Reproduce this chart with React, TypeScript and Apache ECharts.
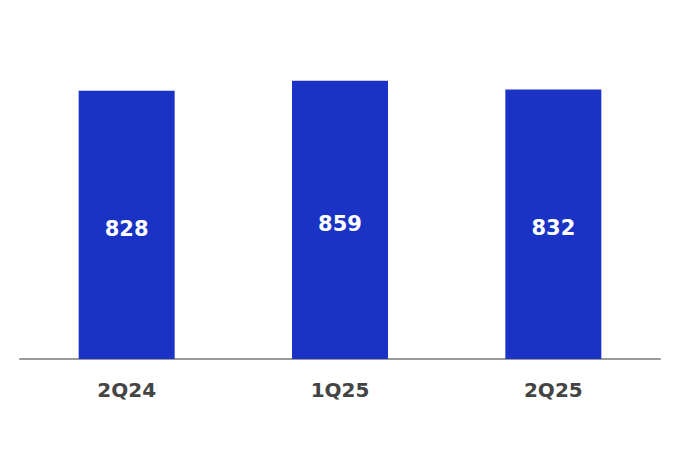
import React, { useRef, useEffect } from "react";
import * as echarts from "echarts";

const categories = ["2Q24", "1Q25", "2Q25"];
const values = [828, 859, 832];

const App: React.FC = () => {
  const ref = useRef<HTMLDivElement>(null);

  useEffect(() => {
    if (!ref.current) return;
    const chart = echarts.init(ref.current, undefined, { renderer: "svg" });
    chart.setOption({
      animation: false,
      grid: { left: 20, right: 20, top: 35, bottom: 93 },
      xAxis: {
        type: "category",
        data: categories,
        axisTick: { show: false },
        axisLine: { lineStyle: { color: "#9a9a9a", width: 2 } },
        axisLabel: {
          color: "#444444",
          fontSize: 20,
          fontWeight: "bold",
          fontFamily: "DejaVu Sans",
          margin: 21,
        },
      },
      yAxis: {
        type: "value",
        min: 0,
        max: 1000,
        show: false,
        splitLine: { show: false },
      },
      series: [
        {
          type: "bar",
          data: values,
          barWidth: "45%",
          itemStyle: { color: "#1a33c4" },
          label: {
            show: true,
            position: "inside",
            offset: [0, 4],
            color: "#ffffff",
            fontSize: 21,
            fontWeight: "bold",
            fontFamily: "DejaVu Sans",
          },
        },
      ],
    });
    return () => chart.dispose();
  }, []);

  return <div ref={ref} style={{ width: 680, height: 452, margin: -8 }} />;
};

export default App;
